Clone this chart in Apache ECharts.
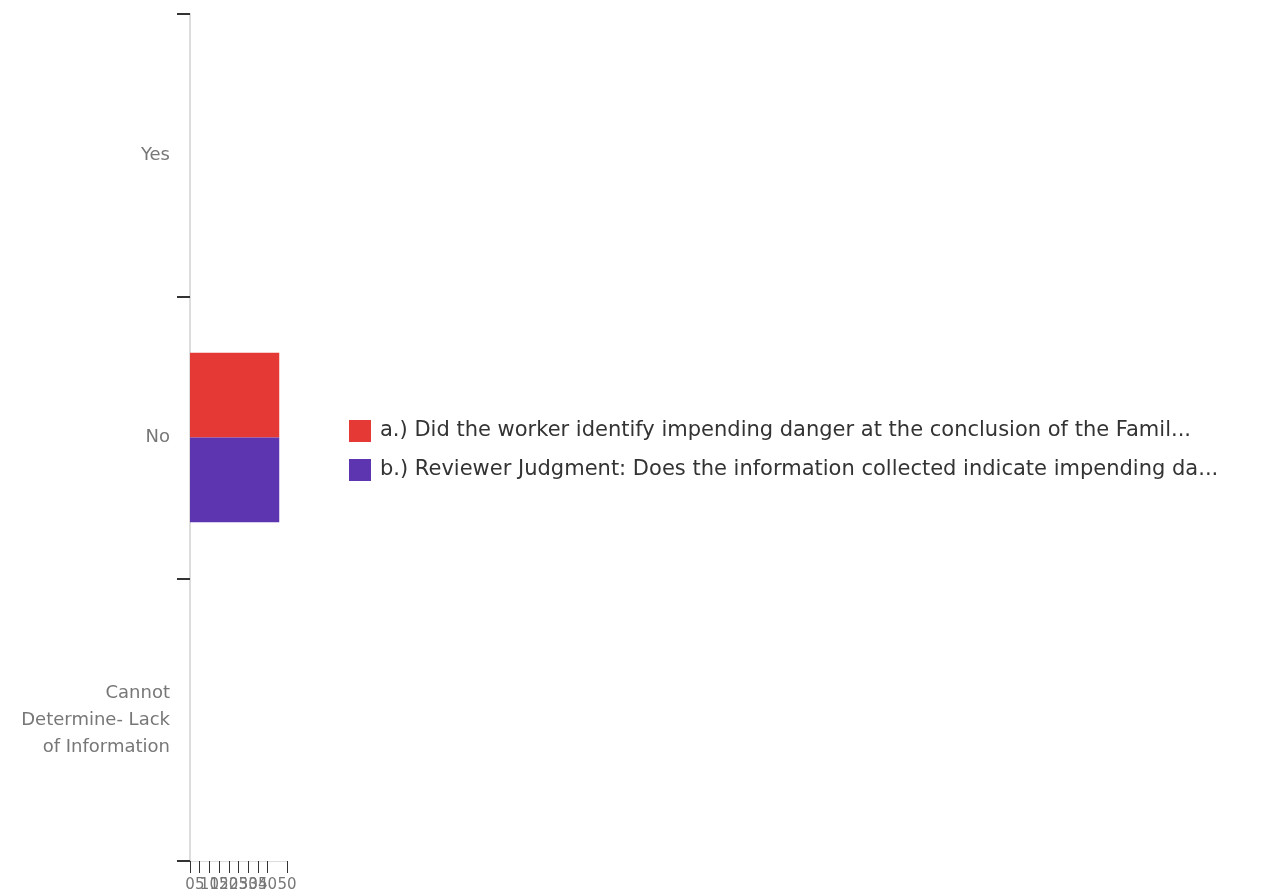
<!DOCTYPE html>
<html>
<head>
<meta charset="utf-8">
<script src="https://cdn.jsdelivr.net/npm/echarts@6/dist/echarts.min.js"></script>
<style>
html,body{margin:0;padding:0;background:#fff;}
#chart{width:1279px;height:896px;}
</style>
</head>
<body>
<div id="chart"></div>
<script>
const categories = ['Yes', 'No', 'Cannot Determine- Lack of Information'];
const categoryLabels = ['Yes', 'No', 'Cannot\nDetermine- Lack\nof Information'];
const seriesNames = [
  'a.) Did the worker identify impending danger at the conclusion of the Famil...',
  'b.) Reviewer Judgment: Does the information collected indicate impending da...'
];
const seriesA = [0, 46, 0];
const seriesB = [0, 46, 0];
const xTicks = { min: 0, max: 50, interval: 5 };
const colors = ['#e53935', '#5e35b1'];

const chart = echarts.init(document.getElementById('chart'));
chart.setOption({
  animation: false,
  color: colors,
  grid: { left: 190, right: 992, top: 14, bottom: 35, containLabel: false },
  legend: {
    orient: 'vertical',
    left: 349,
    top: 420,
    padding: 0,
    icon: 'rect',
    itemWidth: 22,
    itemHeight: 22,
    itemGap: 17,
    textStyle: { fontFamily: 'DejaVu Sans', fontSize: 21, color: '#333', padding: [0, 0, 0, 4] },
    data: seriesNames
  },
  xAxis: {
    type: 'value',
    min: xTicks.min,
    max: xTicks.max,
    interval: xTicks.interval,
    splitLine: { show: false },
    axisLine: { show: true, lineStyle: { color: '#ddd', width: 1 } },
    axisTick: { show: true, length: 12, lineStyle: { color: '#333' } },
    axisLabel: {
      fontFamily: 'DejaVu Sans', fontSize: 15, color: '#777', margin: 17,
      hideOverlap: false, showMaxLabel: true, showMinLabel: true
    }
  },
  yAxis: {
    type: 'category',
    inverse: true,
    data: categories,
    axisLine: { show: true, lineStyle: { color: '#ddd', width: 2 } },
    axisTick: { show: true, length: 13, lineStyle: { color: '#333', width: 2 } },
    axisLabel: {
      fontFamily: 'DejaVu Sans', fontSize: 18, color: '#777', margin: 20,
      lineHeight: 27, align: 'right',
      formatter: function (v, i) { return categoryLabels[i]; }
    }
  },
  series: [
    { name: seriesNames[0], type: 'bar', data: seriesA, barGap: '0%', barCategoryGap: '40%' },
    { name: seriesNames[1], type: 'bar', data: seriesB, barGap: '0%', barCategoryGap: '40%' }
  ]
});
</script>
</body>
</html>
